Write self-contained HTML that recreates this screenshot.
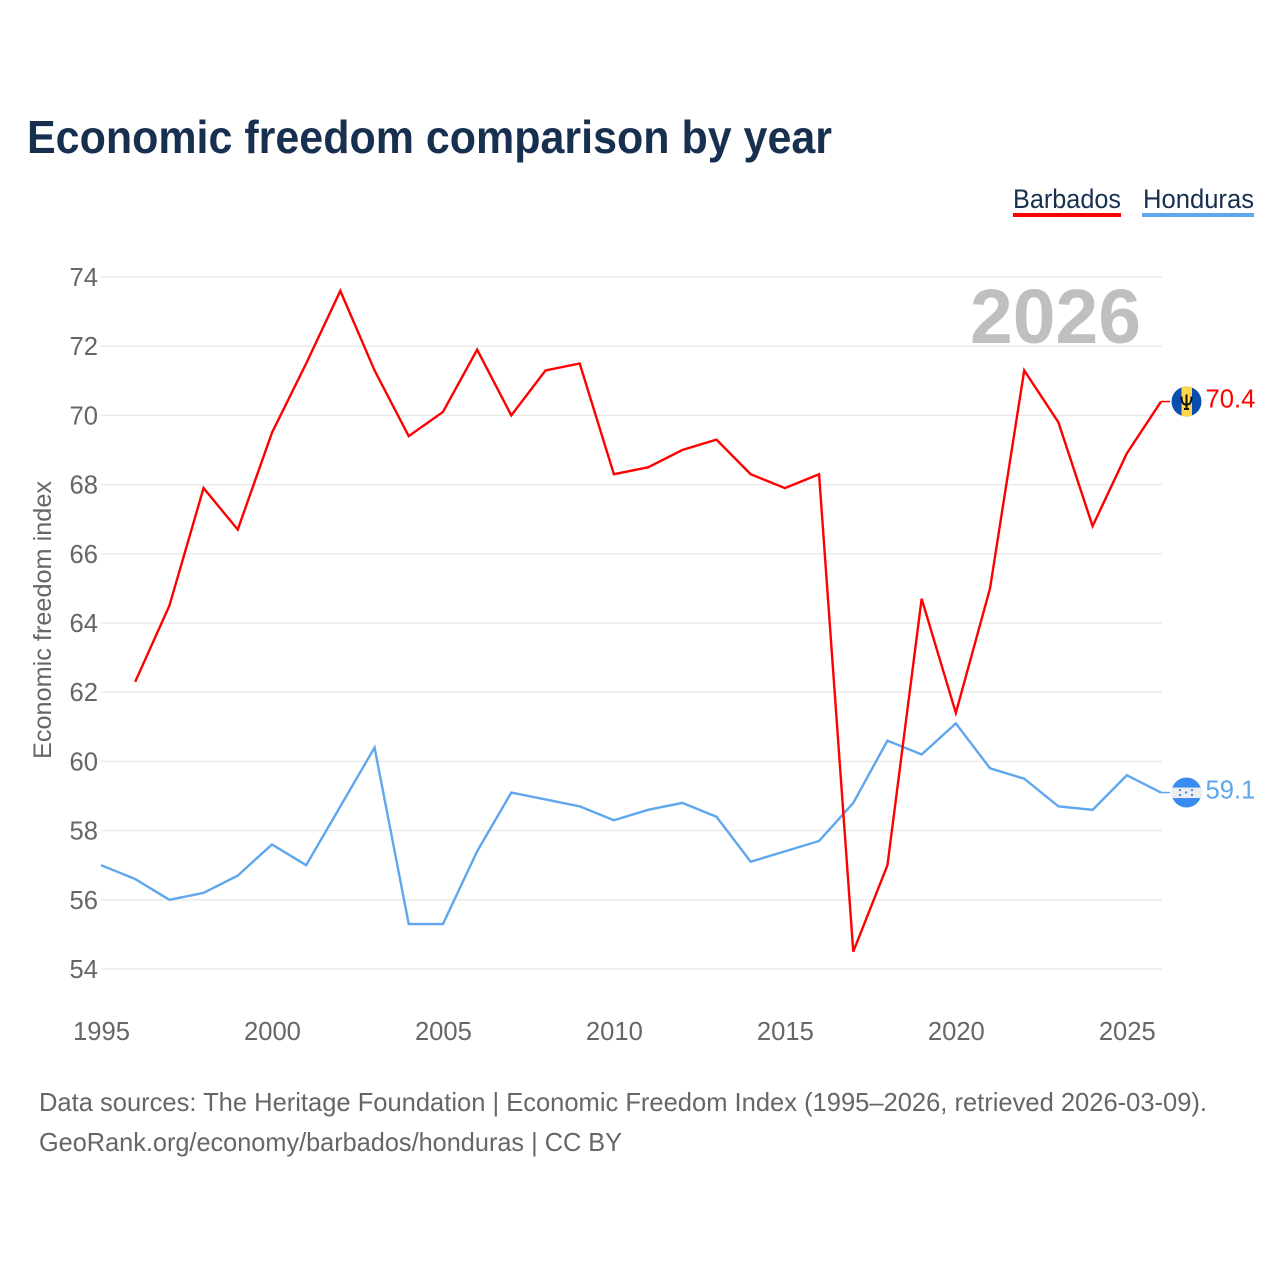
<!DOCTYPE html>
<html lang="en">
<head>
<meta charset="utf-8">
<title>Economic freedom comparison by year</title>
<style>
html,body{margin:0;padding:0;background:#fff;}
svg{display:block;}
text{font-family:"Liberation Sans",sans-serif;}
</style>
</head>
<body>
<svg id="chart" width="1280" height="1280" viewBox="0 0 1280 1280" xmlns="http://www.w3.org/2000/svg">
  <rect x="0" y="0" width="1280" height="1280" fill="#ffffff"/>
  <text x="27" y="153" font-size="46" font-weight="700" fill="#18304f" textLength="805" lengthAdjust="spacingAndGlyphs">Economic freedom comparison by year</text>

  <g>
    <text x="1013" y="208" font-size="27" fill="#18304f" textLength="108" lengthAdjust="spacingAndGlyphs">Barbados</text>
    <rect x="1013" y="213" width="108" height="4" fill="#ff0000"/>
  </g>
  <g>
    <text x="1143" y="208" font-size="27" fill="#18304f" textLength="111" lengthAdjust="spacingAndGlyphs">Honduras</text>
    <rect x="1142" y="213" width="112" height="4" fill="#5ea6ee"/>
  </g>

  <g id="grid"></g>
  <g id="yticks"></g>
  <g id="xticks"></g>

  <text x="970" y="343" font-size="77" font-weight="700" fill="#bfbfbf" textLength="171" lengthAdjust="spacingAndGlyphs">2026</text>

  <text transform="translate(51,620) rotate(-90)" text-anchor="middle" font-size="25" fill="#666666" textLength="278" lengthAdjust="spacingAndGlyphs">Economic freedom index</text>

  <g id="series"></g>

  <g id="flag-barbados">
    <clipPath id="clip-bb"><circle cx="15" cy="15" r="15"/></clipPath>
    <g clip-path="url(#clip-bb)">
      <rect x="0" y="0" width="30" height="30" fill="#0a4db0"/>
      <rect x="10" y="0" width="10.5" height="30" fill="#ffd54a"/>
    </g>
    <path d="M15 8V23M10 10c0 6 1.5 8 5 8s5-2 5-8M12.5 22.5h5" fill="none" stroke="#111111" stroke-width="2"/>
  </g>
  <g id="flag-honduras">
    <clipPath id="clip-hn"><circle cx="15" cy="15" r="15"/></clipPath>
    <g clip-path="url(#clip-hn)">
      <rect x="0" y="0" width="30" height="30" fill="#3a8bf0"/>
      <rect x="0" y="10" width="30" height="10.5" fill="#eeeeee"/>
    </g>
    <g fill="#3a8bf0">
      <circle cx="8.5" cy="12.5" r="1.2"/><circle cx="8.5" cy="17.5" r="1.2"/>
      <circle cx="20.5" cy="12.5" r="1.2"/><circle cx="20.5" cy="17.5" r="1.2"/>
      <circle cx="14.5" cy="15" r="1.2"/>
    </g>
  </g>
  <text id="end-barbados" x="1205.5" y="408" font-size="25.6" fill="#ff0000"></text>
  <text id="end-honduras" x="1205.5" y="799" font-size="25.6" fill="#5ea6ee"></text>

  <text x="39" y="1111" font-size="26" fill="#666666" textLength="1168" lengthAdjust="spacingAndGlyphs">Data sources: The Heritage Foundation | Economic Freedom Index (1995–2026, retrieved 2026-03-09).</text>
  <text x="39" y="1151" font-size="26" fill="#666666" textLength="583" lengthAdjust="spacingAndGlyphs">GeoRank.org/economy/barbados/honduras | CC BY</text>
</svg>
<script>
const years = [1995,1996,1997,1998,1999,2000,2001,2002,2003,2004,2005,2006,2007,2008,2009,2010,2011,2012,2013,2014,2015,2016,2017,2018,2019,2020,2021,2022,2023,2024,2025,2026];
const barbados = [null,62.3,64.5,67.9,66.7,69.5,71.5,73.6,71.3,69.4,70.1,71.9,70.0,71.3,71.5,68.3,68.5,69.0,69.3,68.3,67.9,68.3,54.5,57.0,64.7,61.4,65.0,71.3,69.8,66.8,68.9,70.4];
const honduras = [57.0,56.6,56.0,56.2,56.7,57.6,57.0,58.7,60.4,55.3,55.3,57.4,59.1,58.9,58.7,58.3,58.6,58.8,58.4,57.1,57.4,57.7,58.8,60.6,60.2,61.1,59.8,59.5,58.7,58.6,59.6,59.1];
const yTickValues = [54,56,58,60,62,64,66,68,70,72,74];
const xTickValues = [1995,2000,2005,2010,2015,2020,2025];

const NS = 'http://www.w3.org/2000/svg';
const xScale = function (year) { return 101 + (year - 1995) * (1161 - 101) / 31; };
const yScale = function (value) { return 969 - (value - 54) * (969 - 277) / 20; };

const gridGroup = document.getElementById('grid');
const yTickGroup = document.getElementById('yticks');
const xTickGroup = document.getElementById('xticks');
const seriesGroup = document.getElementById('series');

yTickValues.forEach(function (v) {
  const line = document.createElementNS(NS, 'line');
  
  
  line.setAttribute('x1', 101);
  line.setAttribute('x2', 1162);
  line.setAttribute('y1', yScale(v));
  line.setAttribute('y2', yScale(v));
  line.setAttribute('stroke', '#e8e8e8');
  line.setAttribute('stroke-width', '1.3');
  gridGroup.appendChild(line);

  const label = document.createElementNS(NS, 'text');
  
  
  label.setAttribute('x', 98);
  label.setAttribute('y', yScale(v) + 9);
  label.setAttribute('text-anchor', 'end');
  label.setAttribute('font-size', '25.6');
  label.setAttribute('fill', '#666666');
  label.textContent = v;
  yTickGroup.appendChild(label);
});

xTickValues.forEach(function (y) {
  const label = document.createElementNS(NS, 'text');
  
  
  label.setAttribute('x', xScale(y) + 0.5);
  label.setAttribute('y', 1040);
  label.setAttribute('text-anchor', 'middle');
  label.setAttribute('font-size', '25.6');
  label.setAttribute('fill', '#666666');
  label.textContent = y;
  xTickGroup.appendChild(label);
});

function pathFor(values) {
  let d = '';
  values.forEach(function (v, i) {
    if (v === null) return;
    d += (d === '' ? 'M' : 'L') + xScale(years[i]).toFixed(2) + ' ' + yScale(v).toFixed(2);
  });
  return d;
}

function drawSeries(values, color, name) {
  const last = values[values.length - 1];
  const lastX = xScale(years[years.length - 1]);
  const lastY = yScale(last);

  const path = document.createElementNS(NS, 'path');
  
  
  path.setAttribute('d', pathFor(values));
  path.setAttribute('fill', 'none');
  path.setAttribute('stroke', color);
  path.setAttribute('stroke-width', '2.4');
  path.setAttribute('stroke-linejoin', 'miter');
  seriesGroup.appendChild(path);

  const connector = document.createElementNS(NS, 'line');
  
  
  connector.setAttribute('x1', lastX);
  connector.setAttribute('x2', lastX + 9);
  connector.setAttribute('y1', lastY);
  connector.setAttribute('y2', lastY);
  connector.setAttribute('stroke', color);
  connector.setAttribute('stroke-width', '1.5');
  seriesGroup.appendChild(connector);

  document.getElementById('flag-' + name).setAttribute('transform', 'translate(1171.5,' + (lastY - 15) + ')');
  const endLabel = document.getElementById('end-' + name);
  endLabel.setAttribute('y', lastY + 6);
  endLabel.textContent = last.toFixed(1);
}

drawSeries(honduras, '#5ea6ee', 'honduras');
drawSeries(barbados, '#ff0000', 'barbados');
</script>
</body>
</html>
